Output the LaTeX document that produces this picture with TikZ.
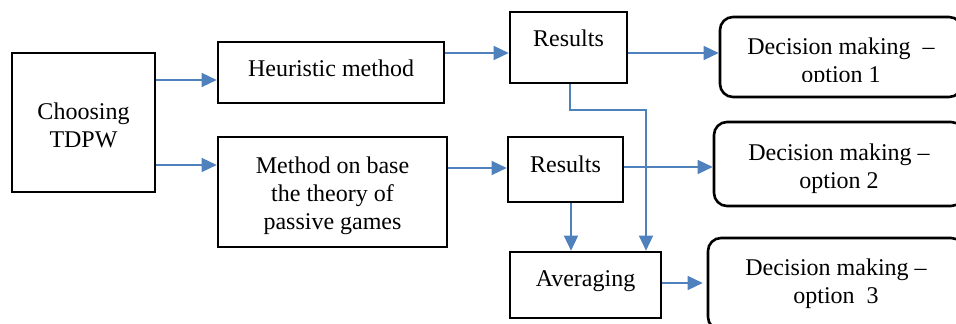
\documentclass[tikz,border=0pt]{standalone}
\usepackage{fontspec}
\setmainfont{Liberation Serif}
\usetikzlibrary{arrows.meta}

\definecolor{flowblue}{RGB}{79,129,189}

\begin{document}
\begin{tikzpicture}[x=0.5pt,y=-0.5pt,>={Triangle[length=7.5pt,width=7pt]},
  font=\fontsize{12}{14}\selectfont,
  main node/.style={draw,line width=1.3pt,inner sep=0pt,align=center},
  dm node/.style={main node,rounded corners=6.5pt},
  flow/.style={->,color=flowblue,line width=0.7pt}]

  \useasboundingbox (0,0) rectangle (956,324);
  \clip (0,0) rectangle (956,324);

  % input and the two methods
  \node[main node,minimum width=71.5pt,minimum height=69.5pt,text height=25.2pt] (tdpw) at (83.5,122.5) {Choosing\\TDPW};
  \node[main node,minimum width=113pt,minimum height=30.5pt,text depth=4.5pt] (heur) at (331,72.5) {Heuristic method};
  \node[main node,minimum width=114.5pt,minimum height=55pt,text height=40.2pt] (meth) at (332.5,192) {Method on base\\the theory of\\passive games};

  % results
  \node[main node,minimum width=58.5pt,minimum height=35.5pt,text depth=9.5pt] (res1) at (568.5,47.5) {Results};
  \node[main node,minimum width=57.5pt,minimum height=32.5pt,text depth=5.5pt] (res2) at (565.5,169.5) {Results};
  \node[main node,minimum width=75.5pt,minimum height=33pt,text depth=6.2pt] (avg) at (585.5,285) {Averaging};

  % decisions (first text box cuts its second line)
  \node[dm node,minimum width=121pt,minimum height=40pt] (dm1) at (841,57) {};
  \begin{scope}
    \clip (dm1.north west) rectangle (dm1.east |- 0,82);
    \node[align=center,inner sep=0pt] (dm1 text) at (841,63) {Decision making~~--\\option 1};
  \end{scope}
  \node[dm node,minimum width=125pt,minimum height=42pt,text height=27pt] (dm2) at (839,164) {Decision making --\\option 2};
  \node[dm node,minimum width=128pt,minimum height=46pt] (dm3) at (836,284) {Decision making --\\option~~3};

  \coordinate (join) at (646,110);

  \draw[flow] (tdpw.east |- 0,80) -- (heur.west |- 0,80);
  \draw[flow] (tdpw.east |- 0,165) -- (meth.west |- 0,165);
  \draw[flow] (heur.east |- 0,53) -- (res1.west |- 0,53);
  \draw[flow] (meth.east |- 0,168) -- (res2.west |- 0,168);
  \draw[flow] (res1.east |- 0,53) -- (dm1.west |- 0,53);
  \draw[flow] (res2.east |- 0,167) -- (dm2.west |- 0,167);
  \draw[flow] (res2.south -| 571,0) -- (avg.north -| 571,0);
  \draw[flow] (res1.south -| 570,0) |- (join) -- (join |- avg.north);
  \draw[flow,shorten >=2pt] (avg.east |- 0,283) -- (dm3.west |- 0,283);
\end{tikzpicture}
\end{document}
